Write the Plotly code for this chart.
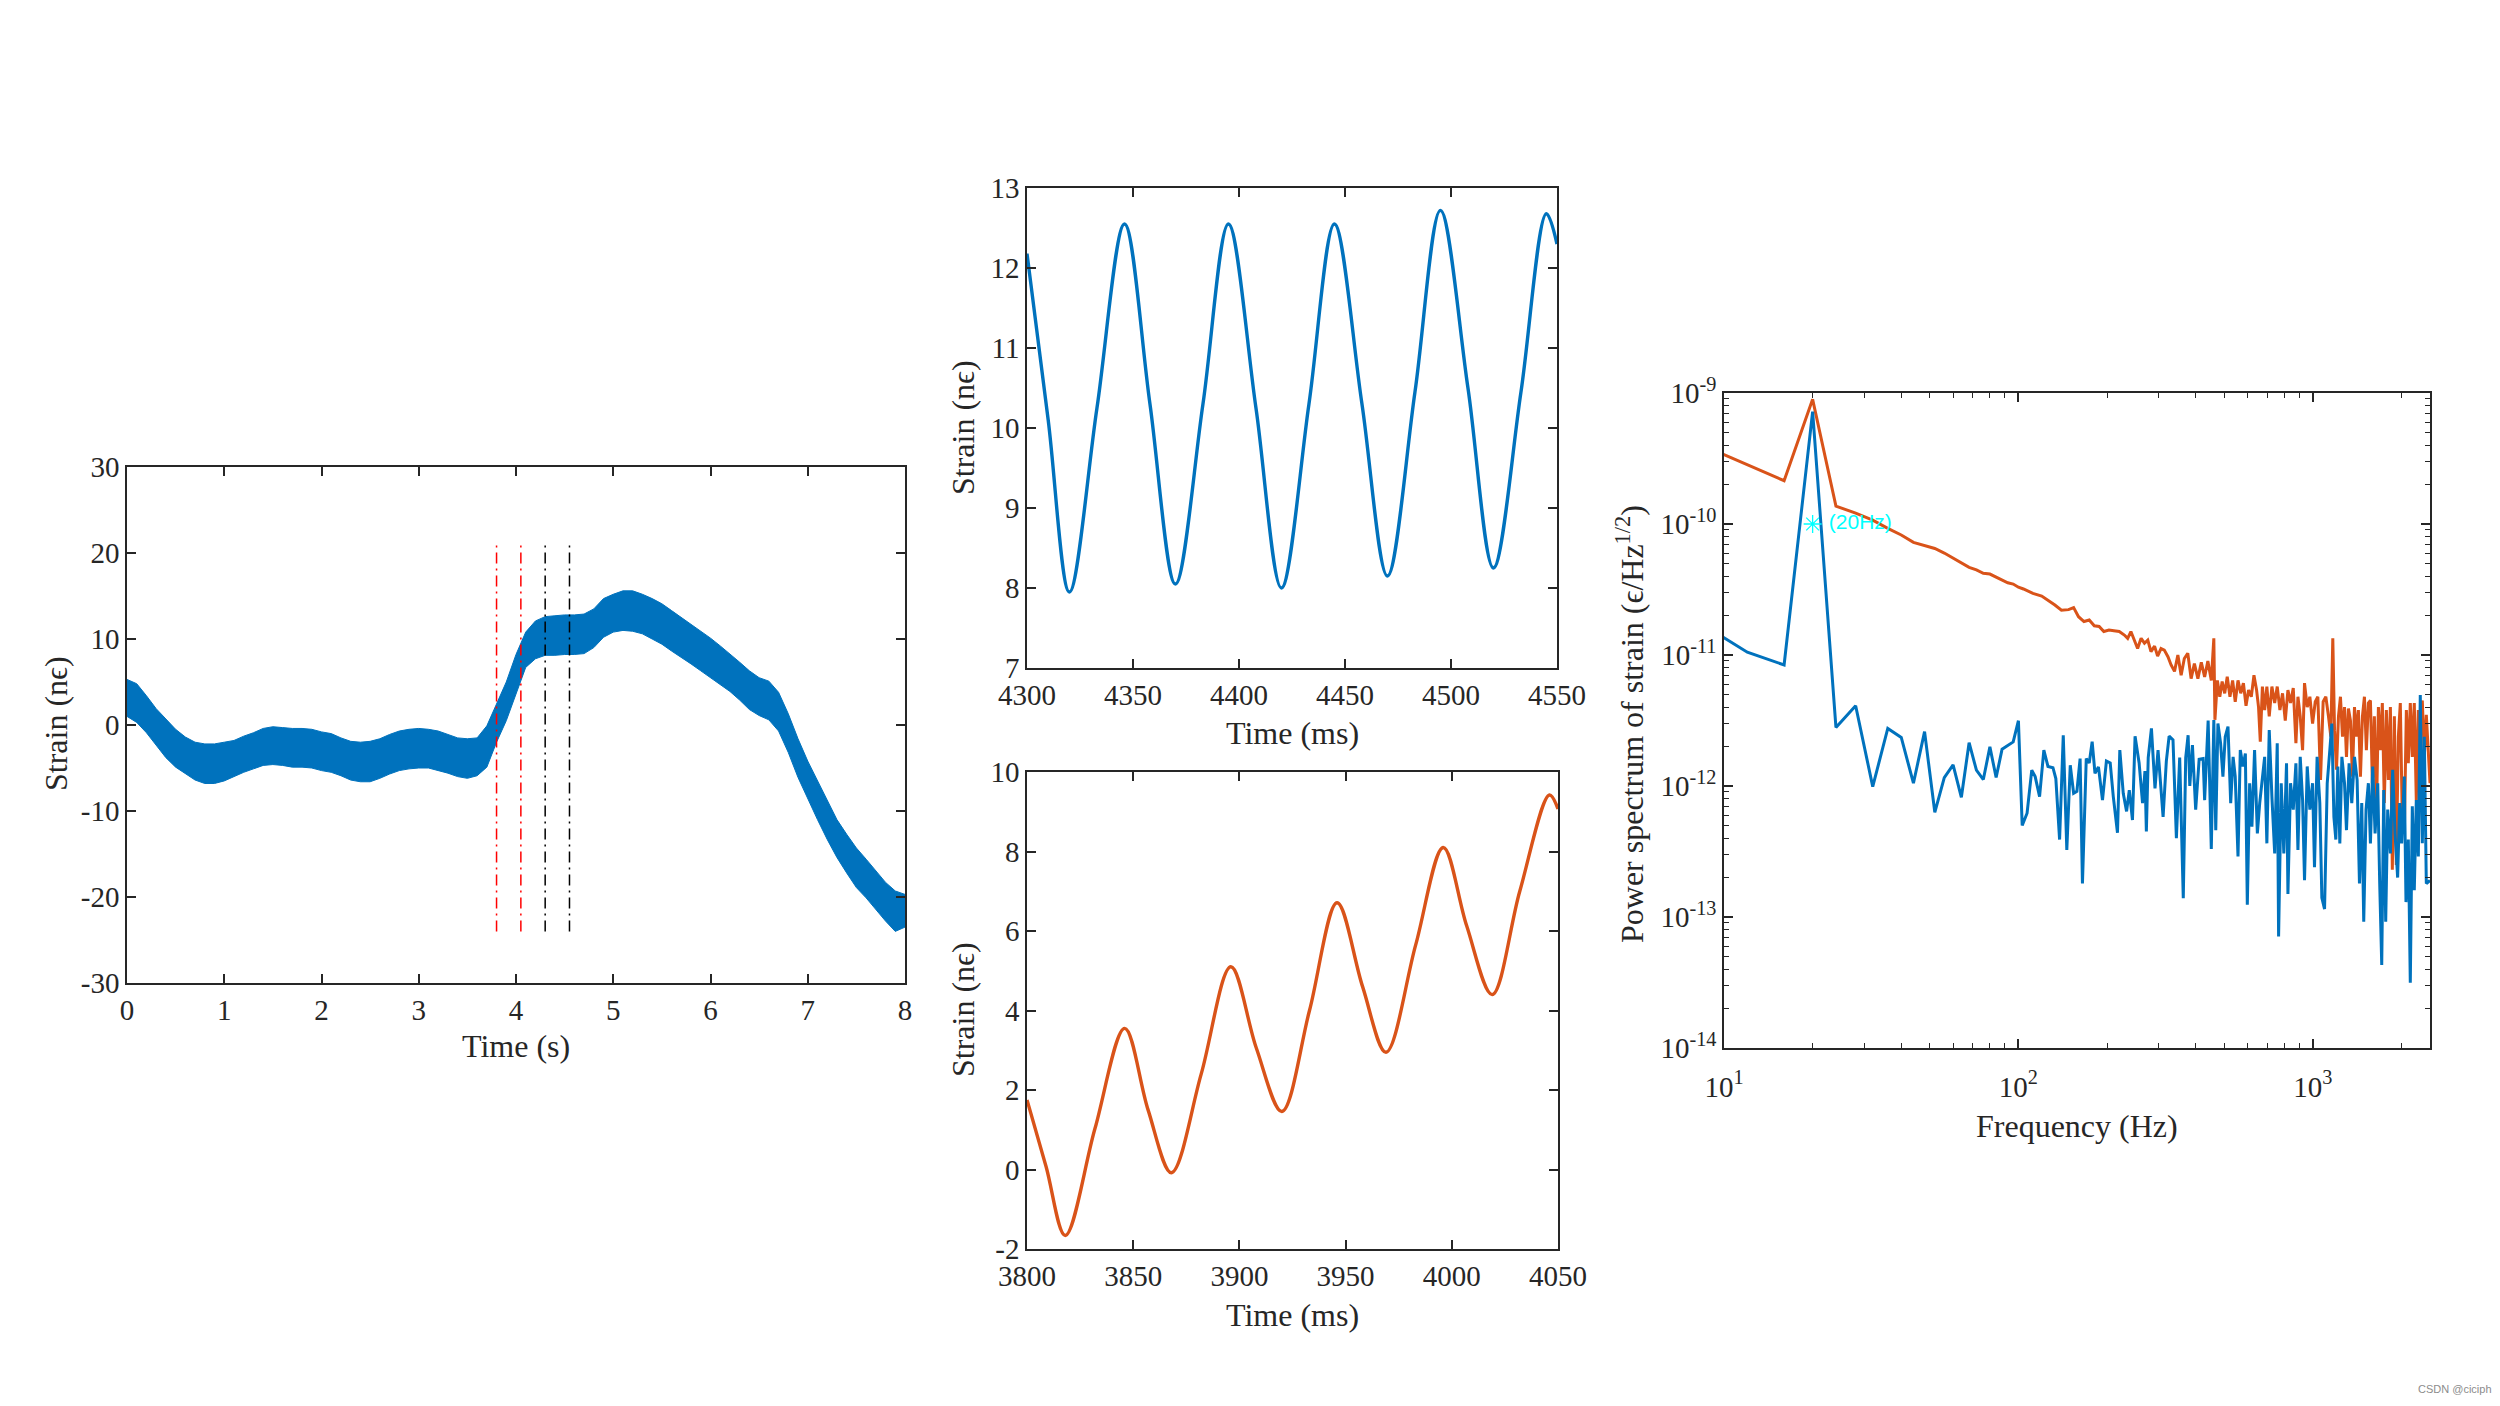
import numpy as np
import plotly.graph_objects as go

# ---------------- data ----------------
# Left panel: strain over the full 8 s record (upper / lower envelope of the 20 Hz oscillation)
t_s = [0.0, 0.1, 0.2, 0.3, 0.4, 0.5, 0.6, 0.7, 0.8, 0.9,
       1.0, 1.1, 1.2, 1.3, 1.4, 1.5, 1.6, 1.7, 1.8, 1.9,
       2.0, 2.1, 2.2, 2.3, 2.4, 2.5, 2.6, 2.7, 2.8, 2.9,
       3.0, 3.1, 3.2, 3.3, 3.4, 3.5, 3.6, 3.7, 3.8, 3.9,
       4.0, 4.1, 4.2, 4.3, 4.4, 4.5, 4.6, 4.7, 4.8, 4.9,
       5.0, 5.1, 5.2, 5.3, 5.4, 5.5, 5.6, 5.7, 5.8, 5.9,
       6.0, 6.1, 6.2, 6.3, 6.4, 6.5, 6.6, 6.7, 6.8, 6.9,
       7.0, 7.1, 7.2, 7.3, 7.4, 7.5, 7.6, 7.7, 7.8, 7.9,
       8.0]
strain_upper = [5.3, 4.8, 3.4, 1.9, 0.7, -0.5, -1.4, -2.0, -2.2, -2.2,
                -2.0, -1.8, -1.3, -0.9, -0.4, -0.2, -0.3, -0.4, -0.4, -0.5,
                -0.8, -1.0, -1.5, -1.9, -2.0, -1.9, -1.6, -1.1, -0.7, -0.5,
                -0.4, -0.5, -0.7, -1.1, -1.5, -1.6, -1.5, -0.1, 2.4, 5.0,
                8.2, 10.8, 12.1, 12.6, 12.7, 12.8, 12.8, 12.9, 13.5, 14.7,
                15.2, 15.6, 15.6, 15.2, 14.7, 14.1, 13.3, 12.5, 11.7, 11.0,
                10.1, 9.2, 8.3, 7.3, 6.3, 5.5, 5.1, 3.8, 1.3, -1.6,
                -4.2, -6.5, -8.8, -11.0, -12.7, -14.3, -15.6, -17.0, -18.3, -19.3,
                -19.7]
strain_lower = [1.0, 0.3, -0.9, -2.4, -3.8, -4.9, -5.7, -6.4, -6.8, -6.8,
                -6.5, -6.0, -5.5, -5.1, -4.7, -4.6, -4.7, -4.9, -4.9, -5.0,
                -5.3, -5.5, -5.9, -6.4, -6.6, -6.6, -6.2, -5.7, -5.3, -5.1,
                -5.0, -5.0, -5.3, -5.6, -6.0, -6.2, -5.9, -4.9, -2.0, 0.5,
                3.6, 6.7, 7.7, 8.1, 8.1, 8.2, 8.2, 8.3, 9.0, 10.2,
                10.8, 11.0, 10.9, 10.6, 10.0, 9.4, 8.6, 7.9, 7.1, 6.3,
                5.5, 4.7, 3.9, 2.9, 1.8, 1.1, 0.6, -0.7, -3.2, -6.1,
                -8.6, -11.0, -13.3, -15.4, -17.2, -18.9, -20.1, -21.5, -22.8, -24.0,
                -23.5]
window_marks_s = [3.8, 4.05, 4.3, 4.55]
window_colors = ["#FF0000", "#FF0000", "#000000", "#000000"]
window_span = [-24, 21]

# Middle top: 4300-4550 ms window (blue)
win1_ms = [4300, 4310, 4320, 4333, 4346, 4358, 4370, 4383, 4395, 4408, 4420,
           4433, 4445, 4458, 4470, 4483, 4495, 4508, 4520, 4533, 4545, 4550]
win1_strain = [12.18, 10.1, 7.95, 10.25, 12.55, 10.3, 8.05, 10.3, 12.55, 10.25, 8.0,
               10.3, 12.55, 10.3, 8.15, 10.45, 12.72, 10.5, 8.25, 10.45, 12.68, 12.3]

# Middle bottom: 3800-4050 ms window (orange)
win2_ms = [3800, 3809, 3818, 3832, 3846, 3857, 3868, 3882, 3896, 3908, 3920,
           3933, 3946, 3958, 3969, 3983, 3996, 4007, 4019, 4032, 4046, 4050]
win2_strain = [1.75, 0.07, -1.66, 1.03, 3.55, 1.5, -0.08, 2.4, 5.1, 3.05, 1.46,
               4.0, 6.71, 4.6, 2.95, 5.65, 8.1, 6.13, 4.4, 7.0, 9.42, 9.07]

# Right: power spectra, (frequency Hz, value in 1e-12 strain/Hz^1/2)
psd_blue = [
    (8, 18.5), (12, 10.5), (16, 8.4), (20, 720), (24, 2.8), (28, 4.1), (32, 0.99), (36, 2.75),
    (40, 2.35), (44, 1.05), (48, 2.6), (52, 0.63), (56, 1.16), (60, 1.45), (64, 0.82), (68, 2.14),
    (72, 1.32), (76, 1.12), (80, 1.99), (84, 1.16), (88, 1.91), (92, 2.05), (96, 2.17), (100, 3.15),
    (103, 0.50), (107, 0.62), (111, 1.32), (114, 1.18), (118, 0.83), (122, 1.88), (126, 1.41),
    (131, 1.38), (134, 1.14), (138, 0.39), (142, 2.44), (146, 0.325), (150, 1.44), (154, 0.88),
    (158, 0.91), (162, 1.62), (165, 0.18), (170, 1.62), (174, 1.5), (178, 2.18), (182, 1.25),
    (187, 1.4), (193, 0.78), (199, 1.55), (205, 1.5), (210, 0.83), (217, 0.44), (221, 1.88),
    (227, 0.88), (233, 0.64), (238, 0.93), (244, 0.55), (249, 2.4), (257, 1.5), (264, 0.74),
    (269, 1.3), (272, 0.45), (276, 1.65), (283, 2.75), (291, 0.96), (298, 1.88), (310, 0.58),
    (318, 1.55), (325, 2.4), (335, 2.25), (344, 0.40), (353, 1.65), (363, 0.139), (370, 1.65),
    (377, 2.44), (382, 1.0), (390, 2.05), (400, 0.66), (411, 1.6), (424, 1.62), (429, 0.78),
    (441, 3.16), (452, 0.33), (461, 3.19), (468, 0.46), (476, 3.0), (486, 2.12), (495, 1.18),
    (504, 2.38), (515, 2.84), (526, 0.74), (536, 1.67), (545, 1.18), (557, 0.29), (567, 1.88),
    (579, 1.41), (590, 1.77), (599, 0.124), (610, 1.05), (621, 0.49), (634, 1.88), (648, 0.435),
    (660, 0.74), (672, 1.05), (686, 1.67), (698, 0.365), (711, 2.67), (726, 0.83), (742, 0.306),
    (757, 2.12), (765, 0.071), (781, 1.05), (797, 0.306), (814, 1.49), (823, 0.15), (840, 1.05),
    (858, 0.66), (876, 1.49), (890, 0.325), (906, 1.67), (923, 0.78), (937, 0.191), (957, 1.41),
    (977, 0.66), (998, 1.05), (1013, 0.24), (1034, 1.67), (1056, 0.74), (1073, 0.14), (1096, 0.115),
    (1119, 1.05), (1142, 1.88), (1160, 3.0), (1179, 0.58), (1197, 0.39), (1216, 1.41), (1235, 0.365),
    (1255, 1.67), (1281, 1.05), (1301, 0.46), (1328, 1.49), (1356, 0.74), (1385, 1.67), (1414, 1.11),
    (1440, 0.18), (1466, 0.74), (1489, 0.092), (1516, 0.66), (1544, 1.05), (1569, 0.365), (1597, 1.41),
    (1627, 0.435), (1661, 1.05), (1687, 0.18), (1714, 0.043), (1741, 0.93), (1768, 0.092), (1796, 0.66),
    (1834, 0.306), (1867, 1.33), (1902, 0.435), (1941, 0.20), (1972, 0.74), (2003, 0.365), (2045, 1.18),
    (2072, 0.13), (2110, 0.39), (2143, 0.0315), (2177, 0.70), (2211, 0.16), (2246, 0.78), (2282, 0.29),
    (2317, 4.95), (2354, 0.365), (2391, 2.38), (2429, 0.18), (2500, 0.19),
]
psd_orange = [
    (8, 420), (12, 282), (16, 214), (20, 895), (24, 137), (28, 121), (32, 107), (36, 92.7),
    (40, 82.4), (44, 72.4), (48, 68.3), (52, 65.0), (56, 60.0), (60, 54.7), (64, 50.0), (68, 46.7),
    (72, 44.6), (76, 42.0), (80, 41.5), (84, 39.2), (88, 37.4), (92, 35.6), (96, 34.8), (100, 32.9),
    (104, 31.9), (112, 29.5), (120, 28.2), (126, 26.3), (133, 24.1), (140, 22.0), (148, 22.2),
    (154, 23.0), (160, 19.6), (167, 18.0), (174, 18.5), (181, 16.7), (188, 16.5), (195, 15.1),
    (203, 15.5), (211, 15.3), (220, 15.1), (229, 14.2), (235, 13.4), (241, 15.1), (248, 13.0),
    (254, 11.2), (261, 13.4), (268, 12.3), (275, 13.0), (282, 10.6), (290, 11.7), (297, 9.8),
    (305, 11.2), (313, 10.9), (322, 9.7), (330, 8.4), (339, 7.5), (348, 10.0), (357, 7.0),
    (366, 9.4), (376, 10.3), (386, 6.6), (396, 8.6), (407, 6.6), (418, 8.8), (429, 6.8),
    (440, 9.0), (452, 6.4), (461, 13.4), (465, 3.2), (474, 6.4), (483, 4.8), (492, 6.27),
    (502, 5.1), (512, 6.84), (523, 4.8), (534, 6.4), (545, 4.4), (557, 6.4), (569, 5.1),
    (581, 6.1), (593, 4.1), (605, 5.4), (618, 4.8), (631, 7.0), (644, 5.4), (654, 4.0),
    (663, 2.18), (674, 5.74), (686, 3.8), (698, 5.74), (711, 3.4), (726, 5.74), (742, 4.3),
    (757, 5.74), (773, 3.8), (789, 5.1), (806, 3.16), (823, 5.4), (840, 4.3), (858, 5.6),
    (876, 2.12), (890, 4.8), (906, 3.4), (923, 1.88), (937, 6.1), (957, 4.0), (977, 4.8),
    (998, 3.0), (1019, 4.4), (1040, 4.8), (1062, 1.11), (1084, 4.4), (1107, 4.8), (1130, 3.4),
    (1151, 2.38), (1169, 13.4), (1185, 2.67), (1203, 1.33), (1222, 3.4), (1241, 4.8), (1261, 2.38),
    (1281, 4.0), (1301, 1.67), (1321, 3.9), (1342, 3.16), (1363, 1.18), (1385, 4.0), (1406, 2.38),
    (1428, 3.8), (1451, 1.18), (1474, 3.4), (1497, 4.8), (1520, 1.88), (1544, 4.3), (1569, 4.5),
    (1593, 1.05), (1618, 3.4), (1644, 0.58), (1670, 4.0), (1696, 1.88), (1722, 4.3), (1749, 0.74),
    (1777, 3.8), (1805, 1.11), (1834, 4.0), (1862, 0.23), (1892, 3.4), (1921, 0.25), (1952, 2.38),
    (1982, 4.3), (2014, 0.52), (2045, 0.435), (2078, 3.8), (2110, 1.49), (2143, 4.3), (2177, 1.67),
    (2211, 4.3), (2246, 0.78), (2282, 3.8), (2317, 2.38), (2354, 4.5), (2391, 1.67), (2429, 3.5),
    (2500, 1.05),
]
PSD_UNIT = 1e-12
peak_freq_hz = 20
peak_label_level = 1e-10
peak_label_text = "(20Hz)"

# tick labels
left_xticks = [0, 1, 2, 3, 4, 5, 6, 7, 8]
left_yticks = [-30, -20, -10, 0, 10, 20, 30]
w1_xticks = [4300, 4350, 4400, 4450, 4500, 4550]
w1_yticks = [7, 8, 9, 10, 11, 12, 13]
w2_xticks = [3800, 3850, 3900, 3950, 4000, 4050]
w2_yticks = [-2, 0, 2, 4, 6, 8, 10]
psd_xticks = [10, 100, 1000]
psd_yticks = [1e-14, 1e-13, 1e-12, 1e-11, 1e-10, 1e-9]

# ---------------- styling ----------------
SERIF = "Liberation Serif, Times New Roman, serif"
AX = "#262626"
BLUE = "#0072BD"
ORANGE = "#D95319"
W, H = 2500, 1406


def hy(v):
    return str(v).replace("\u2212", "-")


def axis(domain, rng, tickvals, ticktext, anchor, log=False, minor_vals=None, standoff=None):
    d = dict(domain=domain, range=rng, anchor=anchor, tickmode="array",
             tickvals=tickvals, ticktext=ticktext, ticks="inside", ticklen=9,
             tickwidth=1.5, tickcolor=AX, showline=True, linecolor=AX, linewidth=1.5,
             mirror="ticks", showgrid=False, zeroline=False, automargin=False,
             tickfont=dict(family=SERIF, size=29, color=AX))
    if log:
        d["type"] = "log"
    if minor_vals is not None:
        d["minor"] = dict(tickmode="array", tickvals=minor_vals, ticks="inside",
                          ticklen=5, tickwidth=1.2, tickcolor=AX, showgrid=False)
    if standoff is not None:
        d["ticklabelstandoff"] = standoff
    return d


fig = go.Figure()

# left panel band
fig.add_trace(go.Scatter(x=t_s, y=strain_lower, mode="lines", line=dict(color=BLUE, width=1),
                         xaxis="x", yaxis="y", showlegend=False, hoverinfo="skip"))
fig.add_trace(go.Scatter(x=t_s, y=strain_upper, mode="lines", line=dict(color=BLUE, width=1),
                         fill="tonexty", fillcolor=BLUE, xaxis="x", yaxis="y", showlegend=False))
for tx, col in zip(window_marks_s, window_colors):
    fig.add_trace(go.Scatter(x=[tx, tx], y=window_span, mode="lines",
                             line=dict(color=col, width=1.5, dash="11px,5px,2px,5px"),
                             xaxis="x", yaxis="y", showlegend=False))

# middle panels
fig.add_trace(go.Scatter(x=win1_ms, y=win1_strain, mode="lines", line=dict(color=BLUE, width=3.4, shape="spline", smoothing=1.0),
                         xaxis="x2", yaxis="y2", showlegend=False))
fig.add_trace(go.Scatter(x=win2_ms, y=win2_strain, mode="lines", line=dict(color=ORANGE, width=3.4, shape="spline", smoothing=1.0),
                         xaxis="x3", yaxis="y3", showlegend=False))

# spectra
fo, po = zip(*psd_orange)
fb, pb = zip(*psd_blue)
fig.add_trace(go.Scatter(x=list(fo), y=[p * PSD_UNIT for p in po], mode="lines", line=dict(color=ORANGE, width=3),
                         xaxis="x4", yaxis="y4", showlegend=False))
fig.add_trace(go.Scatter(x=list(fb), y=[p * PSD_UNIT for p in pb], mode="lines", line=dict(color=BLUE, width=3),
                         xaxis="x4", yaxis="y4", showlegend=False))
fig.add_trace(go.Scatter(x=[peak_freq_hz], y=[peak_label_level], mode="markers+text",
                         marker=dict(symbol="asterisk-open", size=15, color="#00FFFF", line=dict(color="#00FFFF", width=1.3)),
                         text=[" " + peak_label_text], textposition="middle right",
                         textfont=dict(family="Liberation Sans, Arial, sans-serif", size=21, color="#00FFFF"),
                         xaxis="x4", yaxis="y4", showlegend=False))

# axes
px_x = lambda p: p / W
px_y = lambda p: 1 - p / H

minor_x = [m * 10 ** k for k in (1, 2) for m in range(2, 10)] + [2000]
minor_y = [m * 10.0 ** k for k in range(-14, -9) for m in range(2, 10)]

fig.update_layout(
    width=W, height=H, margin=dict(l=0, r=0, t=0, b=0),
    paper_bgcolor="white", plot_bgcolor="white", showlegend=False,
    xaxis=axis([px_x(127), px_x(905)], [0, 8], left_xticks, [hy(v) for v in left_xticks], "y"),
    yaxis=axis([px_y(983), px_y(467)], [-30, 30], left_yticks, [hy(v) for v in left_yticks], "x"),
    xaxis2=axis([px_x(1027), px_x(1557)], [4300, 4550], w1_xticks, [str(v) for v in w1_xticks], "y2"),
    yaxis2=axis([px_y(668), px_y(188)], [7, 13], w1_yticks, [str(v) for v in w1_yticks], "x2"),
    xaxis3=axis([px_x(1027), px_x(1558)], [3800, 4050], w2_xticks, [str(v) for v in w2_xticks], "y3"),
    yaxis3=axis([px_y(1249), px_y(772)], [-2, 10], w2_yticks, [hy(v) for v in w2_yticks], "x3"),
    xaxis4=axis([px_x(1724), px_x(2430)], [1, np.log10(2500)], psd_xticks,
                ["10<sup>%d</sup>" % round(np.log10(v)) for v in psd_xticks], "y4", log=True,
                minor_vals=minor_x, standoff=12),
    yaxis4=axis([px_y(1048), px_y(393)], [-14, -9], psd_yticks,
                ["10<sup>%d</sup>" % round(np.log10(v)) for v in psd_yticks], "x4", log=True, minor_vals=minor_y),
)


def title(text, x, y, angle=0):
    fig.add_annotation(text=text, x=px_x(x), y=px_y(y), xref="paper", yref="paper",
                       showarrow=False, textangle=angle, xanchor="center", yanchor="middle",
                       font=dict(family=SERIF, size=32, color=AX))


title("Time (s)", 516, 1046)
title("Strain (n\u03f5)", 56, 724, -90)
title("Time (ms)", 1292, 733)
title("Strain (n\u03f5)", 963, 428, -90)
title("Time (ms)", 1292, 1315)
title("Strain (n\u03f5)", 963, 1010, -90)
title("Frequency (Hz)", 2077, 1126)
title("Power spectrum of strain (\u03f5/Hz<sup>1/2</sup>)", 1630, 724, -90)

fig.add_annotation(text="CSDN @ciciph", x=px_x(2494), y=px_y(1389), xref="paper", yref="paper",
                   showarrow=False, xanchor="right", yanchor="middle",
                   font=dict(family="Liberation Sans, Arial, sans-serif", size=11, color="#8c8c8c"))

fig.write_html("out.html", include_plotlyjs=True, config={"displayModeBar": False},
               post_script="document.body.style.margin='0';document.body.style.overflow='hidden';")
